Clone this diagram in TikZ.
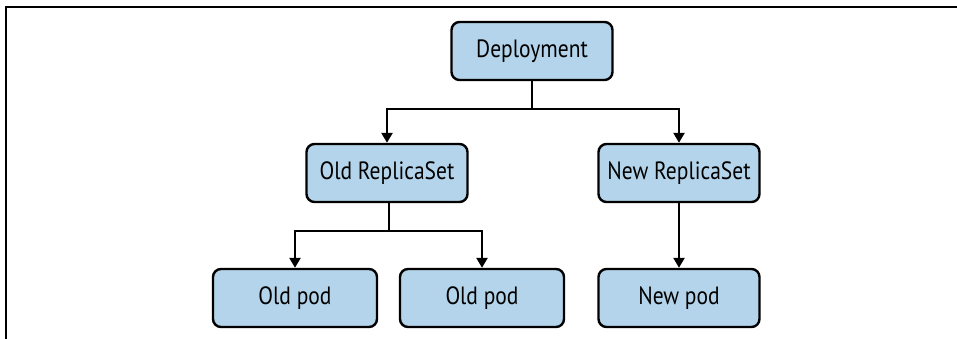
\documentclass[tikz,border=0pt]{standalone}
\usepackage{fontspec}
\setmainfont{PT Sans}[FakeStretch=0.86]
\usetikzlibrary{arrows.meta}
\definecolor{boxblue}{RGB}{179,212,234}
\begin{document}
\begin{tikzpicture}[x=1pt,y=-1pt,
  box/.style={draw=black,line width=2.4pt,fill=boxblue,rounded corners=8pt,
    minimum width=161pt,minimum height=58pt,inner sep=0pt,
    font=\fontsize{25}{29}\selectfont},
  arr/.style={line width=2.4pt,-{Triangle[width=11pt,length=10pt]}},
  conn/.style={line width=2.4pt}]
\useasboundingbox (0,0) rectangle (957,339);
\draw[line width=2.2pt] (6,339) -- (6,7) -- (957,7);
\node[box] (dep) at (532,51) {Deployment};
\node[box] (old) at (387,173) {Old ReplicaSet};
\node[box] (new) at (679,173) {New ReplicaSet};
\node[box,minimum width=164pt] (p1) at (295,298) {Old pod};
\node[box,minimum width=164pt] (p2) at (482,298) {Old pod};
\node[box] (p3) at (679,298) {New pod};
\coordinate (j1) at (532,109);
\coordinate (j2) at (389,231);
\draw[conn] (dep.south) -- (j1);
\draw[arr] (j1) -| (old.north);
\draw[arr] (j1) -| (new.north);
\draw[conn] (j2 |- old.south) -- (j2);
\draw[arr] (j2) -| (p1.north);
\draw[arr] (j2) -| (p2.north);
\draw[arr] (new.south) -- (p3.north);
\end{tikzpicture}
\end{document}
